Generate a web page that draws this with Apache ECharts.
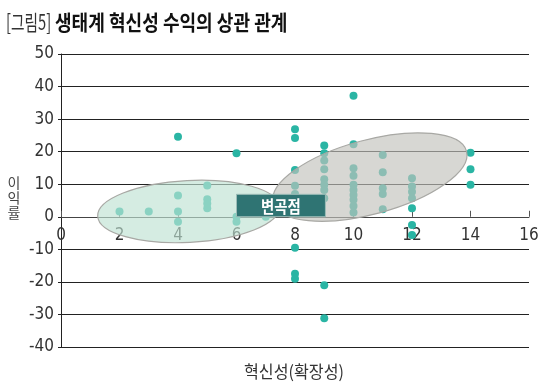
<!DOCTYPE html>
<html><head><meta charset="utf-8">
<script src="https://cdn.jsdelivr.net/npm/echarts@6/dist/echarts.min.js"></script>
<style>html,body{margin:0;padding:0;background:#fff}#c{width:547px;height:389px}</style>
</head><body><div id="c"></div>
<script>
// ---- data ----
const innovation = [2,3,4,4,4,4,5,5,5,5,6,6,6,7,
  8,8,8,8,8,8,8,8,
  9,9,9,9,9,9,9,9,9,9,
  10,10,10,10,10,10,10,10,10,10,
  11,11,11,11,11,
  12,12,12,12,12,12,12,
  14,14,14];
const profit = [1.6,1.6,24.6,6.5,1.6,-1.5,9.6,5.4,4.1,2.6,19.5,0,-1.5,0,
  26.9,24.2,14.4,9.5,7.0,-9.5,-17.5,-19.0,
  21.9,19.5,17.3,14.6,11.5,9.8,8.2,5.7,-21.0,-31.2,
  37.2,22.3,14.9,12.6,9.8,8.2,6.7,5.2,3.3,1.3,
  19.0,13.7,8.8,7.0,2.3,
  11.8,9.3,7.7,5.7,2.6,-2.5,-5.6,
  19.7,14.6,9.8];
const xTicks = [0,2,4,6,8,10,12,14,16];
const yTicks = [-40,-30,-20,-10,0,10,20,30,40,50];
const titlePrefix = '[그림5]';
const titleMain = '생태계 혁신성 수익의 상관 관계';
const xName = '혁신성(확장성)';
const yName = ['이','익','률'];
const calloutText = '변곡점';

const points = innovation.map((x,i)=>[x, profit[i]]);

// annotation shapes (data-space centers / radii, angle counter-clockwise)
const ellipses = [
  {c:[4.36,1.63], r:[3.11,9.5], angle:3, fill:'rgba(190,226,211,0.65)'},
  {c:[10.56,12.2], r:[3.42,11.4], angle:15, fill:'rgba(194,194,188,0.65)'}
];
const calloutBox = [[6.0,6.9],[9.04,0]];

const chart = echarts.init(document.getElementById('c'), null, {renderer:'canvas'});
const numFont = "'Liberation Sans Narrow','DejaVu Sans Condensed',sans-serif";
const krFont = "'Noto Sans CJK KR','Noto Sans',sans-serif";

const yNameGraphics = yName.map((ch,i)=>({type:'text',x:14,y:183+i*15,
  style:{text:ch,x:0,y:0,fontSize:14,fontFamily:krFont,fill:'#444',verticalAlign:'middle',align:'center'}}));

chart.setOption({
  animation:false,
  backgroundColor:'#fff',
  grid:{left:61,right:18,top:54,bottom:42,containLabel:false,outerBoundsMode:'none'},
  xAxis:{type:'value',min:xTicks[0],max:xTicks[xTicks.length-1],interval:2,
    axisLine:{onZero:false,lineStyle:{color:'#444',width:1}},
    axisTick:{show:true,inside:true,length:6,lineStyle:{color:'#555'}},
    axisLabel:{fontSize:17,color:'#333',margin:10,fontFamily:numFont,showMinLabel:true,showMaxLabel:true},
    splitLine:{show:false}},
  yAxis:{type:'value',min:yTicks[0],max:yTicks[yTicks.length-1],interval:10,
    axisLine:{show:true,onZero:false,lineStyle:{color:'#222',width:1}},
    axisTick:{show:true,inside:false,length:3,lineStyle:{color:'#222'}},
    axisLabel:{fontSize:17,color:'#333',margin:7,fontFamily:numFont},
    splitLine:{show:true,lineStyle:{color:'#222',width:1}}},
  graphic:[
    {type:'text',x:6,y:22,scaleX:0.7,style:{text:titlePrefix,x:0,y:0,fontSize:21,fontFamily:krFont,fontWeight:'normal',fill:'#333',verticalAlign:'middle',align:'left'}},
    {type:'text',x:55,y:22,scaleX:0.86,style:{text:titleMain,x:0,y:0,fontSize:21,fontFamily:krFont,fontWeight:'bold',fill:'#111',verticalAlign:'middle',align:'left'}},
    {type:'text',x:294,y:372,scaleX:0.95,style:{text:xName,x:0,y:0,fontSize:17,fontFamily:krFont,fill:'#333',verticalAlign:'middle',align:'center'}}
  ].concat(yNameGraphics),
  series:[
    {type:'scatter',data:points,symbolSize:8,itemStyle:{color:'#2ab5a4',opacity:1},z:2,silent:true},
    {type:'custom',z:3,silent:true,data:ellipses.map(e=>e.c),
      renderItem:function(params,api){
        const e = ellipses[params.dataIndex];
        const c = api.coord([api.value(0),api.value(1)]);
        const s = api.size(e.r);
        return {type:'ellipse',x:c[0],y:c[1],rotation:e.angle*Math.PI/180,
          shape:{cx:0,cy:0,rx:s[0],ry:s[1]},
          style:{fill:e.fill,stroke:'#a8a8a4',lineWidth:1.2}};
      }},
    {type:'custom',z:4,silent:true,data:[calloutBox[0].concat(calloutBox[1])],
      renderItem:function(params,api){
        const p1 = api.coord([api.value(0),api.value(1)]);
        const p2 = api.coord([api.value(2),api.value(3)]);
        const w = p2[0]-p1[0], h = p2[1]-p1[1];
        return {type:'group',children:[
          {type:'rect',shape:{x:p1[0],y:p1[1],width:w,height:h},style:{fill:'#2f7473',stroke:'#9dbdb8',lineWidth:1}},
          {type:'text',x:p1[0]+w/2,y:p1[1]+h/2+1,scaleX:0.85,style:{text:calloutText,x:0,y:0,fontSize:17,fontWeight:'bold',fontFamily:krFont,fill:'#fff',align:'center',verticalAlign:'middle'}}
        ]};
      }}
  ]
});
// place the x axis on the y = 0 line
const yZero = chart.convertToPixel({yAxisIndex:0}, 0);
const yBottom = chart.convertToPixel({yAxisIndex:0}, yTicks[0]);
chart.setOption({xAxis:{offset:-(yBottom - yZero)}});
</script></body></html>
